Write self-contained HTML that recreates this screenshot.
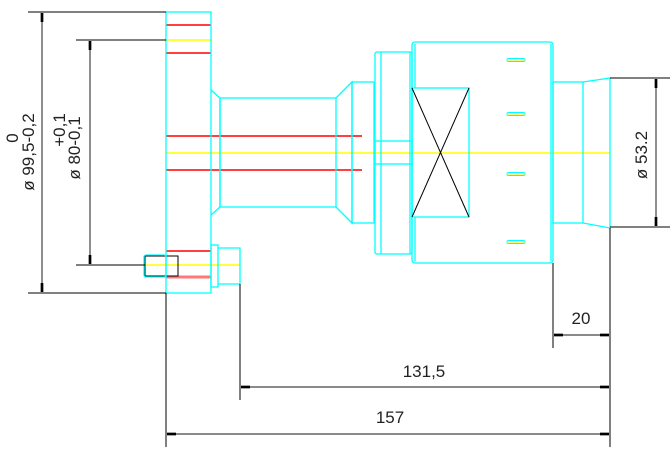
<!DOCTYPE html>
<html><head><meta charset="utf-8"><style>
html,body{margin:0;padding:0;background:#fff;width:670px;height:460px;overflow:hidden}
svg{display:block}
text{font-family:"Liberation Sans",sans-serif;font-size:17px;fill:#222}
</style></head><body>
<svg width="670" height="460" viewBox="0 0 670 460" xmlns="http://www.w3.org/2000/svg">
<defs>
<marker id="a" viewBox="0 0 10 4" refX="10" refY="2" markerWidth="9" markerHeight="4" orient="auto-start-reverse" markerUnits="userSpaceOnUse"><path d="M0,0.5 L10,0.5 L10,3.5 L0,3.5z" fill="#000"/></marker>
</defs>
<g stroke-width="1.5">
<line x1="166" y1="25" x2="211" y2="25" stroke="#f00"/>
<line x1="166" y1="53" x2="211" y2="53" stroke="#f00"/>
<line x1="166" y1="40" x2="211" y2="40" stroke="#ff0"/>
<line x1="166" y1="136" x2="362" y2="136" stroke="#f00"/>
<line x1="166" y1="170" x2="362" y2="170" stroke="#f00"/>
<line x1="166" y1="153" x2="610" y2="153" stroke="#ff0"/>
<line x1="166" y1="251" x2="211" y2="251" stroke="#f00"/>
<line x1="166" y1="277" x2="211" y2="277" stroke="#f77" stroke-width="3"/>
<line x1="145" y1="265" x2="240" y2="265" stroke="#ff0"/>
</g>
<g fill="none" stroke="#000" stroke-width="1">
<rect x="145" y="256" width="33" height="20"/>
</g>
<g fill="none" stroke="#0ff" stroke-width="1.3">
<rect x="166" y="12" width="45" height="281"/>
<polyline points="211,90 220,98 220,207 211,215"/>
<rect x="220" y="98" width="116" height="109"/>
<polyline points="336,98 352,82 352,223 336,207"/>
<rect x="352" y="82" width="22" height="141"/>
<rect x="375" y="52" width="37" height="202" rx="2"/>
<line x1="381" y1="52" x2="381" y2="254"/>
<line x1="410" y1="52" x2="410" y2="254"/>
<rect x="375" y="141" width="37" height="23"/>
<rect x="412" y="42" width="141" height="221" rx="3"/>
<line x1="415" y1="44" x2="415" y2="88"/>
<line x1="415" y1="217" x2="415" y2="261"/>
<line x1="551" y1="44" x2="551" y2="261"/>
<rect x="412" y="88" width="57" height="129"/>
<rect x="553" y="82" width="30" height="141"/>
<polyline points="583,82 610,78 610,228 583,223"/>
<rect x="144" y="255" width="22" height="22" rx="2"/>
<rect x="211" y="245" width="7" height="42"/>
<polyline points="218,248 240,248 240,284 218,284"/>
<g stroke-width="1"><rect x="507" y="58.5" width="18" height="3" rx="1.5"/><rect x="507" y="112.5" width="18" height="3" rx="1.5"/><rect x="507" y="172.5" width="18" height="3" rx="1.5"/><rect x="507" y="240.5" width="18" height="3" rx="1.5"/></g>
</g>
<g stroke="#ff0" stroke-width="1"><line x1="507" y1="60" x2="525" y2="60"/><line x1="507" y1="114" x2="525" y2="114"/><line x1="507" y1="174" x2="525" y2="174"/><line x1="507" y1="242" x2="525" y2="242"/></g>
<g stroke="#000" stroke-width="1" fill="none">
<line x1="412" y1="88" x2="469" y2="217"/>
<line x1="469" y1="88" x2="412" y2="217"/>
<line x1="28" y1="12" x2="166" y2="12"/>
<line x1="28" y1="293" x2="166" y2="293"/>
<line x1="76" y1="40" x2="166" y2="40"/>
<line x1="76" y1="265" x2="145" y2="265"/>
<line x1="610" y1="78" x2="670" y2="78"/>
<line x1="610" y1="227" x2="670" y2="227"/>
<line x1="166" y1="293" x2="166" y2="447"/>
<line x1="240" y1="284" x2="240" y2="400"/>
<line x1="553" y1="263" x2="553" y2="348"/>
<line x1="610" y1="228" x2="610" y2="447"/>
</g>
<g stroke="#444" stroke-width="1.2" marker-start="url(#a)" marker-end="url(#a)">
<line x1="42" y1="13" x2="42" y2="292"/>
<line x1="90" y1="41" x2="90" y2="264"/>
<line x1="656" y1="79" x2="656" y2="226"/>
<line x1="554" y1="335" x2="609" y2="335"/>
<line x1="241" y1="387" x2="609" y2="387"/>
<line x1="167" y1="434" x2="609" y2="434"/>
</g>
<text transform="translate(34,152) rotate(-90)" text-anchor="middle">ø 99,5-0,2</text>
<text transform="translate(18,138) rotate(-90)" text-anchor="middle">0</text>
<text transform="translate(80,148) rotate(-90)" text-anchor="middle">ø 80-0,1</text>
<text transform="translate(65,130) rotate(-90)" text-anchor="middle">+0,1</text>
<text transform="translate(647,155) rotate(-90)" text-anchor="middle">ø 53.2</text>
<text x="581" y="324" text-anchor="middle">20</text>
<text x="424" y="377" text-anchor="middle">131,5</text>
<text x="390" y="423" text-anchor="middle">157</text>
</svg>
</body></html>
